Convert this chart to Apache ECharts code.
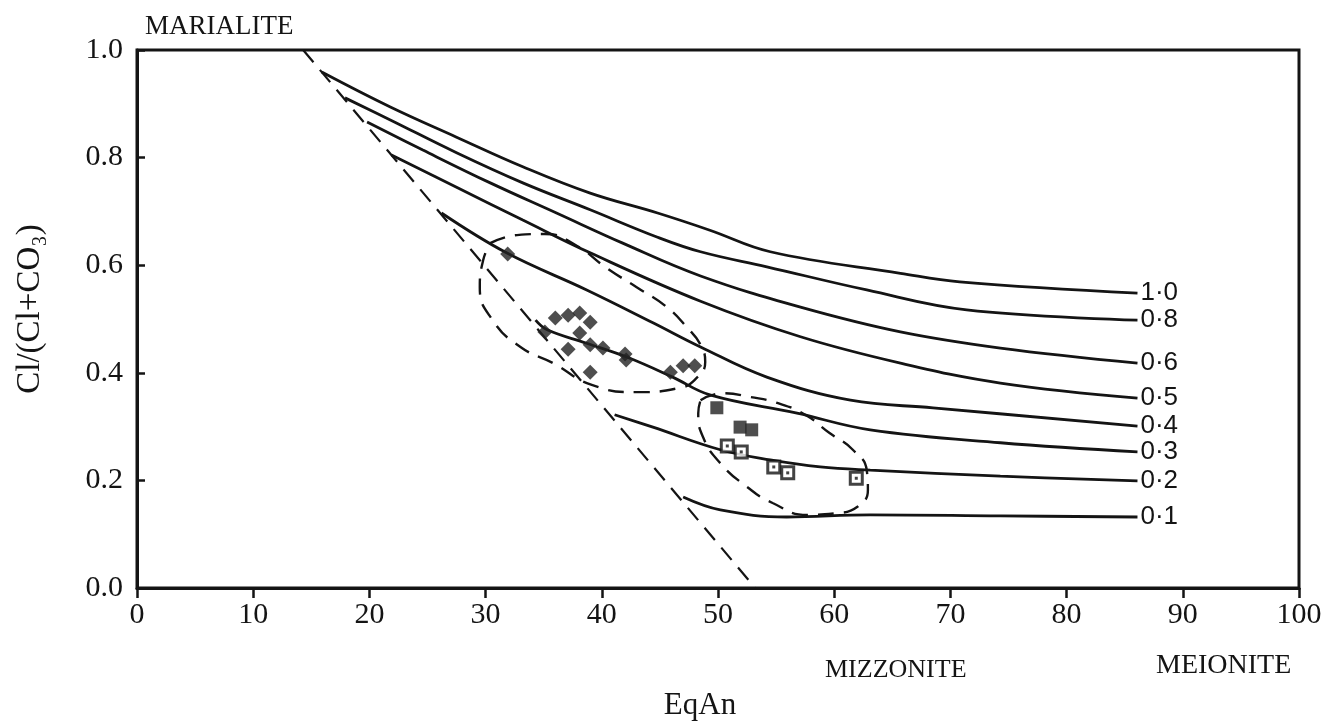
<!DOCTYPE html>
<html>
<head>
<meta charset="utf-8">
<title>Scapolite EqAn vs Cl/(Cl+CO3)</title>
<script src="https://cdn.jsdelivr.net/npm/echarts/dist/echarts.min.js"></script>
<style>
  html, body { margin: 0; padding: 0; background: #fff; }
  #main { width: 1341px; height: 722px; }
</style>
</head>
<body>
<div id="main"></div>
<script>
// isopleth curves, labelled at their right end
var curveNames = ['1·0', '0·8', '0·6', '0·5', '0·4', '0·3', '0·2', '0·1'];
var curve10 = [[15.9, 0.959], [21.8, 0.894], [27.5, 0.838], [33.2, 0.783], [39.0, 0.734], [44.8, 0.697], [49.3, 0.665], [54.5, 0.625], [65.7, 0.585], [70.8, 0.569], [86.1, 0.548]];
var curve08 = [[17.9, 0.911], [21.8, 0.870], [27.5, 0.809], [33.2, 0.753], [39.0, 0.703], [44.8, 0.652], [48.5, 0.625], [54.2, 0.597], [62.8, 0.554], [71.4, 0.517], [86.1, 0.498]];
var curve06 = [[19.8, 0.866], [24.6, 0.814], [30.4, 0.753], [36.1, 0.697], [41.8, 0.641], [48.5, 0.580], [57.1, 0.522], [65.7, 0.476], [74.3, 0.446], [86.1, 0.418]];
var curve05 = [[21.9, 0.805], [27.5, 0.745], [33.2, 0.684], [39.0, 0.623], [48.5, 0.533], [57.1, 0.467], [65.7, 0.418], [74.3, 0.381], [86.1, 0.353]];
var curve04 = [[26.2, 0.697], [31.8, 0.623], [38.7, 0.554], [44.4, 0.493], [48.5, 0.448], [54.2, 0.392], [61.4, 0.349], [68.5, 0.335], [86.1, 0.301]];
var curve03 = [[34.3, 0.498], [35.3, 0.480], [38.7, 0.455], [42.2, 0.429], [46.1, 0.392], [49.3, 0.359], [56.8, 0.325], [63.1, 0.294], [74.3, 0.270], [86.1, 0.253]];
var curve02 = [[41.1, 0.322], [44.4, 0.299], [50.2, 0.257], [54.5, 0.238], [58.8, 0.225], [63.1, 0.219], [74.3, 0.208], [86.1, 0.199]];
var curve01 = [[47.0, 0.169], [50.2, 0.145], [55.9, 0.132], [63.1, 0.136], [74.3, 0.134], [86.1, 0.132]];

// dashed limit line
var limitLine = [[14.3, 1.0], [53.2, 0.0]];

// samples
var diamonds = [[31.9, 0.621], [35.1, 0.476], [36.0, 0.502], [37.1, 0.507], [38.1, 0.511], [39.0, 0.494], [38.1, 0.474], [37.1, 0.444], [39.0, 0.452], [40.1, 0.446], [42.0, 0.435], [42.1, 0.424], [39.0, 0.401], [45.9, 0.401], [47.0, 0.413], [48.0, 0.413]];
var filledSquares = [[49.9, 0.335], [51.9, 0.299], [52.9, 0.294]];
var openSquares = [[50.8, 0.264], [52.0, 0.253], [54.8, 0.225], [56.0, 0.214], [61.9, 0.204]];

// dashed fields round the two groups
var field1 = [[30.4, 0.641], [32.7, 0.656], [35.1, 0.658], [37.7, 0.638], [40.4, 0.595], [43.0, 0.559], [45.6, 0.522], [47.3, 0.485], [48.5, 0.452], [48.9, 0.420], [48.0, 0.387], [46.7, 0.372], [43.0, 0.364], [39.2, 0.377], [35.8, 0.418], [33.0, 0.448], [30.6, 0.498], [29.5, 0.559], [29.8, 0.610], [30.4, 0.641]];
var field2 = [[48.5, 0.349], [50.4, 0.362], [52.8, 0.355], [55.1, 0.344], [57.5, 0.322], [59.6, 0.288], [61.6, 0.257], [62.8, 0.219], [62.9, 0.182], [62.0, 0.151], [60.2, 0.139], [57.7, 0.136], [54.7, 0.158], [52.5, 0.188], [50.2, 0.232], [48.7, 0.281], [48.3, 0.325], [48.5, 0.349]];

var xTicks = [0, 10, 20, 30, 40, 50, 60, 70, 80, 90, 100];
var yTicks = [0.0, 0.2, 0.4, 0.6, 0.8, 1.0];

var ink = '#141414';
var serif = 'Liberation Serif';

var curves = [curve10, curve08, curve06, curve05, curve04, curve03, curve02, curve01];
var series = [];

curves.forEach(function (c, i) {
  series.push({
    name: curveNames[i],
    type: 'line',
    data: c,
    smooth: 0.4,
    symbol: 'none',
    lineStyle: { color: ink, width: 2.8 },
    endLabel: {
      show: true,
      formatter: curveNames[i],
      fontFamily: 'Liberation Sans',
      fontSize: 26,
      color: ink,
      distance: 3
    },
    z: 3
  });
});

series.push({
  type: 'line',
  data: limitLine,
  symbol: 'none',
  lineStyle: { color: ink, width: 2.2, type: [16, 10] },
  z: 2
});

[field1, field2].forEach(function (f) {
  series.push({
    type: 'line',
    data: f,
    smooth: 0.5,
    symbol: 'none',
    lineStyle: { color: ink, width: 2.4, type: [16, 10] },
    z: 2
  });
});

series.push({
  type: 'scatter',
  data: diamonds,
  symbol: 'diamond',
  symbolSize: 15,
  itemStyle: { color: '#222' },
  z: 5
});
series.push({
  type: 'scatter',
  data: filledSquares,
  symbol: 'rect',
  symbolSize: 13,
  itemStyle: { color: '#222' },
  z: 5
});
series.push({
  type: 'scatter',
  data: openSquares,
  symbol: 'rect',
  symbolSize: 12,
  itemStyle: { color: '#fff', borderColor: ink, borderWidth: 3 },
  z: 5
});
series.push({
  type: 'scatter',
  data: openSquares,
  symbol: 'rect',
  symbolSize: 3,
  itemStyle: { color: ink },
  z: 6
});

var chart = echarts.init(document.getElementById('main'));
chart.setOption({
  backgroundColor: '#fff',
  animation: false,
  grid: {
    left: 137, right: 42, top: 50, bottom: 134,
    outerBoundsMode: 'none',
    show: true, borderColor: ink, borderWidth: 3
  },
  xAxis: {
    type: 'value',
    min: xTicks[0], max: xTicks[xTicks.length - 1], interval: 10,
    name: 'EqAn',
    nameLocation: 'middle',
    nameGap: 102,
    nameTextStyle: { fontFamily: serif, fontSize: 31, color: ink, padding: [0, 36, 0, 0] },
    axisLine: { show: true, lineStyle: { color: ink, width: 3 } },
    axisTick: { show: true, length: 10, lineStyle: { color: ink, width: 2.5 } },
    axisLabel: { fontFamily: serif, fontSize: 30, color: ink, margin: 12 },
    splitLine: { show: false }
  },
  yAxis: {
    type: 'value',
    min: yTicks[0], max: yTicks[yTicks.length - 1], interval: 0.2,
    axisLine: { show: true, lineStyle: { color: ink, width: 3 } },
    axisTick: { show: true, inside: true, length: 8, lineStyle: { color: ink, width: 2.5 } },
    axisLabel: {
      fontFamily: serif, fontSize: 30, color: ink, margin: 14,
      formatter: function (v) { return v.toFixed(1); }
    },
    splitLine: { show: false }
  },
  graphic: [
    { type: 'text', left: 145, top: 13, style: { text: 'MARIALITE', font: '27px "Liberation Serif"', fill: ink } },
    { type: 'text', left: 825, top: 657, style: { text: 'MIZZONITE', font: '26px "Liberation Serif"', fill: ink } },
    { type: 'text', left: 1156, top: 652, style: { text: 'MEIONITE', font: '28px "Liberation Serif"', fill: ink } },
    {
      type: 'text', x: 30, y: 309, rotation: Math.PI / 2,
      style: { text: 'Cl/(Cl+CO₃)', font: '33px "Liberation Serif"', fill: ink, align: 'center', verticalAlign: 'middle' }
    }
  ],
  series: series
});
</script>
</body>
</html>
